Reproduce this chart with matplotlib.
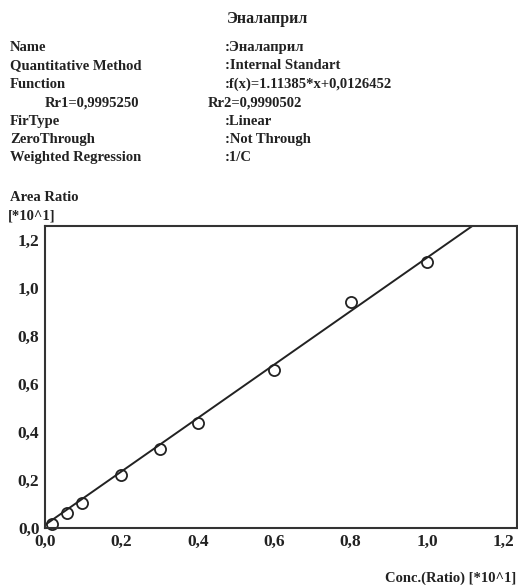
import matplotlib
matplotlib.use("Agg")
import matplotlib.pyplot as plt
import numpy as np

# Data
conc = [0.018, 0.058, 0.097, 0.2, 0.3, 0.4, 0.6, 0.8, 1.0]
area = [0.017, 0.062, 0.104, 0.22, 0.33, 0.437, 0.66, 0.94, 1.11]
slope = 1.11385
intercept = 0.0126452
xticks = [0.0, 0.2, 0.4, 0.6, 0.8, 1.0, 1.2]
yticks = [0.0, 0.2, 0.4, 0.6, 0.8, 1.0, 1.2]

info_left = ["Name", "Quantitative Method", "Function", None, "FirType", "ZeroThrough", "Weighted Regression"]
info_right = [":Эналаприл", ":Internal Standart", ":f(x)=1.11385*x+0,0126452", None, ":Linear", ":Not Through", ":1/C"]

W, H = 518, 585
fig = plt.figure(figsize=(W / 100, H / 100), dpi=100)
font = dict(family="Liberation Serif", weight="bold", color="#222222")
fs = 10.5

fig.text(268 / W, 1 - 23 / H, "Эналаприл", ha="center", va="baseline", fontsize=11.5, **font)
y0 = 51
dy = 18.4
for i, (l, r) in enumerate(zip(info_left, info_right)):
    yy = 1 - (y0 + i * dy) / H
    if l is None:
        fig.text(45 / W, yy, "Rr1=0,9995250", ha="left", va="baseline", fontsize=fs, **font)
        fig.text(208 / W, yy, "Rr2=0,9990502", ha="left", va="baseline", fontsize=fs, **font)
    else:
        fig.text(10 / W, yy, l, ha="left", va="baseline", fontsize=fs, **font)
        fig.text(225 / W, yy, r, ha="left", va="baseline", fontsize=fs, **font)

fig.text(10 / W, 1 - 201 / H, "Area Ratio", ha="left", va="baseline", fontsize=fs, **font)
fig.text(8 / W, 1 - 220 / H, "[*10^1]", ha="left", va="baseline", fontsize=fs, **font)
fig.text(516 / W, 1 - 582 / H, "Conc.(Ratio) [*10^1]", ha="right", va="baseline", fontsize=fs, **font)

ax = fig.add_axes([45 / W, 1 - 528 / H, (517 - 45) / W, (528 - 226) / H])
xmax, ymax = 1.235, 1.258
ax.set_xlim(0, xmax)
ax.set_ylim(0, ymax)

xl = np.array([0.0, (ymax - intercept) / slope])
ax.plot(xl, slope * xl + intercept, color="#222222", lw=1.4, clip_on=True)
ax.plot(conc, area, linestyle="none", marker="o", markersize=8, markerfacecolor="none",
        markeredgecolor="#222222", markeredgewidth=1.3, clip_on=False)

ax.set_xticks(xticks)
ax.set_yticks(yticks)
ax.set_xticklabels([f"{v:.1f}".replace(".", ",") for v in xticks])
ax.set_yticklabels([f"{v:.1f}".replace(".", ",") for v in yticks])
ax.tick_params(length=0, pad=4, labelsize=12.5)
for lab in ax.get_xticklabels() + ax.get_yticklabels():
    lab.set_fontfamily("Liberation Serif")
    lab.set_fontweight("bold")
    lab.set_color("#222222")
for s in ax.spines.values():
    s.set_linewidth(1.5)
    s.set_color("#333333")

fig.savefig("out.png", dpi=100)
